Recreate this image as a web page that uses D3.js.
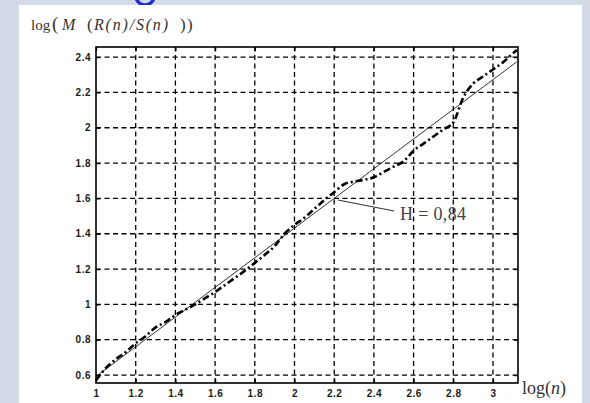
<!DOCTYPE html>
<html>
<head>
<meta charset="utf-8">
<script src="https://cdn.jsdelivr.net/npm/d3@7"></script>
<style>
  html, body { margin: 0; padding: 0; background: #d3dbe9; }
  svg { display: block; }
</style>
</head>
<body>
<svg id="chart" width="590" height="403"></svg>
<script>
// R/S analysis — log(n) vs log(M(R(n)/S(n)))
const logN = [1.00, 1.05, 1.10, 1.15, 1.20, 1.25, 1.30, 1.35, 1.40, 1.45, 1.50, 1.55, 1.60, 1.65,
  1.70, 1.75, 1.80, 1.85, 1.90, 1.95, 2.00, 2.05, 2.10, 2.15, 2.20, 2.25, 2.30, 2.35, 2.40, 2.45,
  2.50, 2.55, 2.60, 2.65, 2.70, 2.75, 2.80, 2.85, 2.90, 2.95, 3.00, 3.05, 3.10, 3.12];
const logRS = [0.57, 0.64, 0.69, 0.73, 0.78, 0.82, 0.87, 0.90, 0.94, 0.97, 1.00, 1.035, 1.07, 1.11,
  1.15, 1.19, 1.235, 1.28, 1.33, 1.40, 1.45, 1.49, 1.54, 1.59, 1.635, 1.68, 1.695, 1.705, 1.72, 1.75,
  1.78, 1.81, 1.87, 1.91, 1.95, 1.99, 2.03, 2.17, 2.25, 2.29, 2.33, 2.37, 2.42, 2.44];

// fitted line, slope H = 0.84
const fitX = [1.0, 3.12];
const fitY = [0.592, 2.373];

const xTicks = [1, 1.2, 1.4, 1.6, 1.8, 2, 2.2, 2.4, 2.6, 2.8, 3];
const yTicks = [0.6, 0.8, 1, 1.2, 1.4, 1.6, 1.8, 2, 2.2, 2.4];

const SERIF = '"Liberation Serif", "Times New Roman", serif';

const svg = d3.select('#chart');

// blue blob peeking over the panel
svg.append('ellipse')
  .attr('cx', 145).attr('cy', -4).attr('rx', 9).attr('ry', 9)
  .attr('fill', 'none').attr('stroke', '#1f33c8').attr('stroke-width', 3.5);

// white panel
svg.append('rect')
  .attr('x', 19).attr('y', 5).attr('width', 563).attr('height', 410)
  .attr('fill', '#ffffff');

const x = d3.scaleLinear().domain([1, 3.126]).range([96, 518]);
const y = d3.scaleLinear().domain([0.555, 2.457]).range([383, 47]);
const [x0, x1] = x.range();
const [y0, y1] = y.range();

const g = svg.append('g');

// grid
g.selectAll('line.vgrid')
  .data(xTicks.filter(d => d > 1))
  .enter().append('line')
  .attr('x1', d => x(d)).attr('x2', d => x(d))
  .attr('y1', y0).attr('y2', y1)
  .attr('stroke', '#000').attr('stroke-width', 1.3)
  .attr('stroke-dasharray', '5,3.5');

g.selectAll('line.hgrid')
  .data(yTicks)
  .enter().append('line')
  .attr('x1', x0).attr('x2', x1)
  .attr('y1', d => y(d)).attr('y2', d => y(d))
  .attr('stroke', '#000').attr('stroke-width', 1.3)
  .attr('stroke-dasharray', '5,3.5');

// fitted line
const line = d3.line().x(d => x(d[0])).y(d => y(d[1]));
g.append('path')
  .datum(d3.zip(fitX, fitY))
  .attr('d', line)
  .attr('fill', 'none')
  .attr('stroke', '#000').attr('stroke-width', 0.8);

// data curve, thick dash-dot
g.append('path')
  .datum(d3.zip(logN, logRS))
  .attr('d', line.curve(d3.curveMonotoneX))
  .attr('fill', 'none')
  .attr('stroke', '#000').attr('stroke-width', 2.6)
  .attr('stroke-dasharray', '7,3,2,3');

// axes box with inward ticks
const axisLeft = d3.axisLeft(y).tickValues(yTicks).tickSize(-4).tickFormat(d3.format('~g')).tickPadding(5);
const axisRight = d3.axisRight(y).tickValues(yTicks).tickSize(-4).tickFormat('');
const axisBottom = d3.axisBottom(x).tickValues(xTicks).tickSize(-4).tickFormat(d3.format('~g')).tickPadding(7);
const axisTop = d3.axisTop(x).tickValues(xTicks).tickSize(-4).tickFormat('');

function styleAxis(sel) {
  sel.select('.domain').remove();
  sel.selectAll('.tick line').attr('stroke', '#000').attr('stroke-width', 1.3);
  sel.selectAll('.tick text')
    .attr('fill', '#1a1a1a')
    .style('font-family', '"Liberation Sans", Arial, sans-serif')
    .style('font-size', '10px')
    .style('font-weight', 'bold')
    .style('letter-spacing', '0.5px');
}

g.append('g').attr('transform', `translate(${x0},0)`).call(axisLeft).call(styleAxis);
g.append('g').attr('transform', `translate(${x1},0)`).call(axisRight).call(styleAxis);
g.append('g').attr('transform', `translate(0,${y0})`).call(axisBottom).call(styleAxis);
g.append('g').attr('transform', `translate(0,${y1})`).call(axisTop).call(styleAxis);

g.append('rect')
  .attr('x', x0).attr('y', y1).attr('width', x1 - x0).attr('height', y0 - y1)
  .attr('fill', 'none').attr('stroke', '#000').attr('stroke-width', 1.6);

// annotation
g.append('line')
  .attr('x1', 338).attr('y1', 200).attr('x2', 394).attr('y2', 211)
  .attr('stroke', '#333').attr('stroke-width', 1.1);
g.append('text')
  .attr('x', 400).attr('y', 220)
  .style('font-family', SERIF)
  .style('font-size', '18px')
  .attr('fill', '#444')
  .attr('textLength', 66).attr('lengthAdjust', 'spacing')
  .text('H = 0,84');

// y label (title), pieces placed like the original equation layout
const titleParts = [
  { t: 'log', x: 31, size: 15, it: false },
  { t: '(', x: 52, size: 19, it: false },
  { t: 'M', x: 62, size: 16, it: true },
  { t: '(', x: 87, size: 17, it: false },
  { t: 'R(n)/S(n)', x: 94, size: 16, it: true, len: 74 },
  { t: ')', x: 180, size: 17, it: false },
  { t: ')', x: 187, size: 17, it: false }
];
svg.selectAll('text.title')
  .data(titleParts)
  .enter().append('text')
  .attr('class', 'title')
  .attr('x', d => d.x).attr('y', 30)
  .attr('fill', '#333')
  .style('font-family', SERIF)
  .style('font-size', d => d.size + 'px')
  .style('font-style', d => d.it ? 'italic' : 'normal')
  .attr('textLength', d => d.len || null)
  .attr('lengthAdjust', 'spacing')
  .text(d => d.t);

// x label
const xl = svg.append('text')
  .attr('x', 522).attr('y', 394)
  .style('font-family', SERIF)
  .style('font-size', '18px')
  .attr('fill', '#333');
xl.append('tspan').text('log(');
xl.append('tspan').style('font-style', 'italic').text('n');
xl.append('tspan').text(')');
</script>
</body>
</html>
